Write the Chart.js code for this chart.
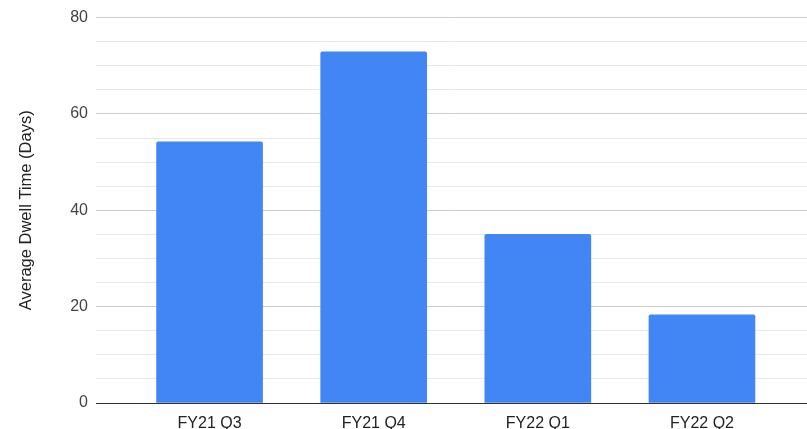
<!DOCTYPE html>
<html>
<head>
<meta charset="utf-8">
<script src="https://cdn.jsdelivr.net/npm/chart.js@4"></script>
<style>
    html, body { margin: 0; padding: 0; background: #fff; }
    #wrap { width: 807px; height: 429px; }
</style>
</head>
<body>
<div id="wrap"><canvas id="dwell-chart"></canvas></div>
<script>
const quarters = ['FY21 Q3', 'FY21 Q4', 'FY22 Q1', 'FY22 Q2'];
const dwellDays = [54.2, 72.9, 35, 18.3];
const yTicks = [0, 20, 40, 60, 80];

const blue = '#4285f4';
const fontFamily = '"Liberation Sans", Arial, sans-serif';

new Chart(document.getElementById('dwell-chart'), {
    type: 'bar',
    data: {
        datasets: [{
            label: 'Average Dwell Time (Days)',
            data: quarters.map((q, i) => ({ x: i, y: dwellDays[i] })),
            backgroundColor: blue,
            borderRadius: 2,
            borderSkipped: 'bottom',
            barThickness: 106,
        }]
    },
    options: {
        responsive: true,
        maintainAspectRatio: false,
        animation: false,
        layout: { padding: { top: 10, right: 0, bottom: 0, left: 0 } },
        plugins: {
            legend: { display: false },
            tooltip: { enabled: false }
        },
        scales: {
            x: {
                type: 'linear',
                offset: false,
                min: -0.692,
                max: 3.64,
                afterBuildTicks: axis => {
                    axis.ticks = quarters.map((q, i) => ({ value: i }));
                },
                afterFit: axis => { axis.height = 26; },
                ticks: {
                    autoSkip: false,
                    maxRotation: 0,
                    padding: 3,
                    color: '#222',
                    font: { family: fontFamily, size: 16 },
                    callback: (value) => quarters[value] ?? ''
                },
                grid: { display: false },
                border: { display: true, color: '#333', width: 1 }
            },
            y: {
                min: 0,
                max: 80,
                ticks: {
                    stepSize: 5,
                    padding: 8,
                    color: '#444',
                    font: { family: fontFamily, size: 16 },
                    callback: (value) => yTicks.includes(value) ? value : ''
                },
                afterFit: axis => { axis.width = 96; },
                grid: {
                    drawTicks: false,
                    color: ctx => {
                        const v = ctx.tick.value;
                        if (v === 0) return '#333';
                        return yTicks.includes(v) ? '#cccccc' : '#e8e8e8';
                    }
                },
                border: { display: false },
                title: {
                    display: true,
                    text: 'Average Dwell Time (Days)',
                    color: '#222',
                    font: { family: fontFamily, size: 16.5 },
                    padding: { top: 17, bottom: 0 }
                }
            }
        }
    }
});
</script>
</body>
</html>
